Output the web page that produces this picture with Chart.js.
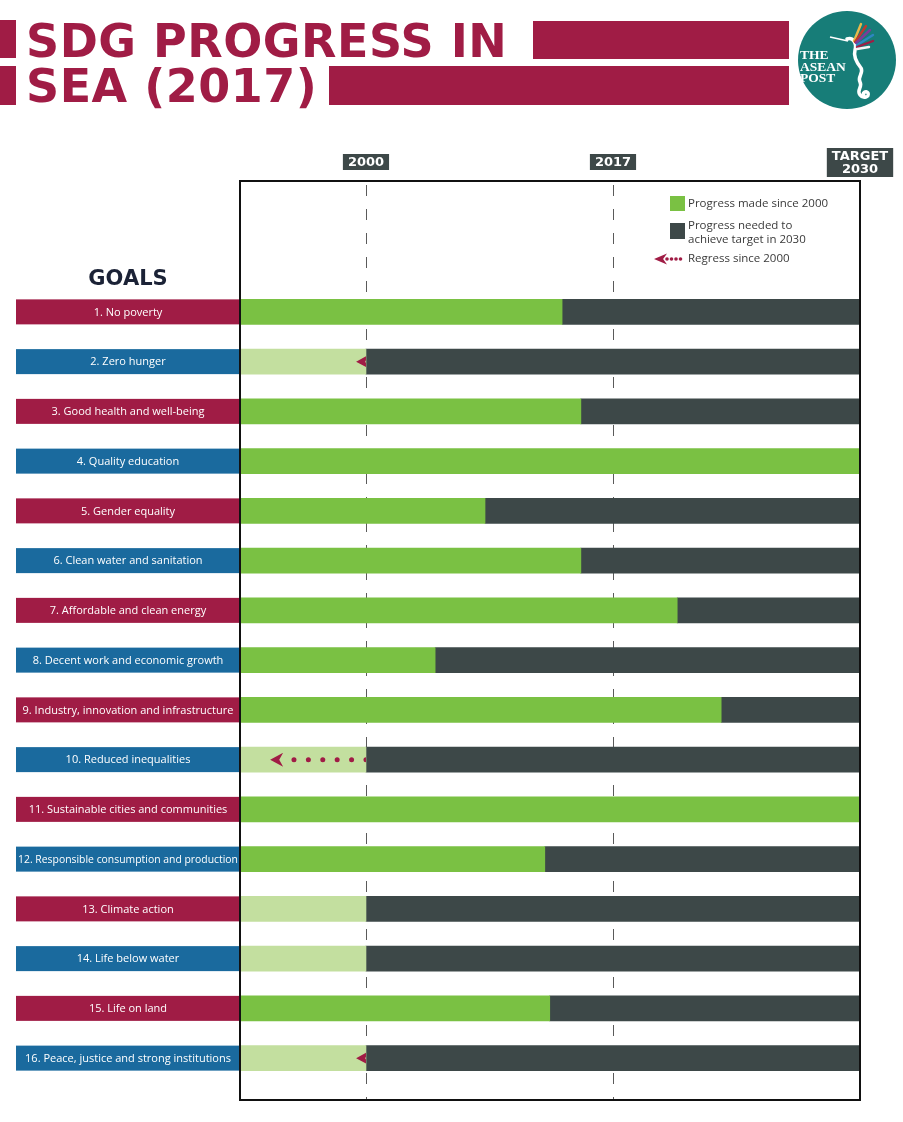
<!DOCTYPE html>
<html>
<head>
<meta charset="UTF-8">
<title>SDG Progress in SEA (2017)</title>
<script src="https://cdn.jsdelivr.net/npm/chart.js@4"></script>
<style>
  body{margin:0;width:903px;height:1122px;position:relative;background:#fff;overflow:hidden;font-family:"DejaVu Sans",sans-serif}
  #chart{position:absolute;left:0;top:0}
  .strip{position:absolute;background:#a01c45}
  .title{position:absolute;left:26px;color:#a01c45;font-weight:bold;font-size:46px;line-height:1;white-space:nowrap;letter-spacing:0.5px}
  #logo{position:absolute;left:797px;top:10px}
</style>
</head>
<body>
<canvas id="chart" width="903" height="1122"></canvas>

<div class="strip" style="left:0;top:20px;width:16px;height:38px"></div>
<div class="strip" style="left:0;top:66px;width:16px;height:39px"></div>
<div class="strip" style="left:533px;top:21px;width:256px;height:38px"></div>
<div class="strip" style="left:329px;top:66px;width:460px;height:39px"></div>
<div class="title" style="top:18px">SDG PROGRESS IN</div>
<div class="title" style="top:63px">SEA (2017)</div>

<svg id="logo" width="100" height="100" viewBox="0 0 100 100">
  <circle cx="50" cy="50" r="49" fill="#177d78"/>
  <g font-family="Liberation Serif" font-weight="bold" font-size="13.5" fill="#fff">
    <text x="3" y="49">THE</text>
    <text x="3" y="61">ASEAN</text>
    <text x="3" y="72">POST</text>
  </g>
  <path d="M33 27 L51 31" stroke="#fff" stroke-width="1.5"/>
  <path d="M50 29 C56 27 60 33 58 40 C56 47 60 53 64 58 C67 63 60 67 63 72 C66 77 59 80 63 85 C66 89 73 87 71 83 C69 80 65 83 67 86"
        fill="none" stroke="#fff" stroke-width="3.5" stroke-linecap="round"/>
  <g stroke-width="2.4" stroke-linecap="round">
    <path d="M57 31 L64 14" stroke="#e8b84a"/>
    <path d="M58 32 L69 16" stroke="#c0392b"/>
    <path d="M59 33 L73 20" stroke="#7d3c98"/>
    <path d="M60 35 L76 25" stroke="#2e86c1"/>
    <path d="M60 37 L76 31" stroke="#a01c45"/>
    <path d="M60 39 L72 37" stroke="#f4f4f4"/>
  </g>
</svg>

<script>
const goals=[
  "1. No poverty",
  "2. Zero hunger",
  "3. Good health and well-being",
  "4. Quality education",
  "5. Gender equality",
  "6. Clean water and sanitation",
  "7. Affordable and clean energy",
  "8. Decent work and economic growth",
  "9. Industry, innovation and infrastructure",
  "10. Reduced inequalities",
  "11. Sustainable cities and communities",
  "12. Responsible consumption and production",
  "13. Climate action",
  "14. Life below water",
  "15. Life on land",
  "16. Peace, justice and strong institutions"
];
// share of the way from the 2000 level (0) to the 2030 target (1); negative = regress
const progress=[0.397,-0.02,0.435,1,0.241,0.435,0.630,0.140,0.719,-0.194,1,0.362,0,0,0.372,-0.02];
const tickValues=[0,0.5,1];
const tickLabels=[["2000"],["2017"],["TARGET","2030"]];
const legendLabels=[["Progress made since 2000"],["Progress needed to","achieve target in 2030"],["Regress since 2000"]];

const xMin=-0.255;
const green="#7ac143", lightGreen="#c3df9f", dark="#3d4848";
const crimson="#a01c45", blue="#1a6a9e";
const frameTop=181, frameBottom=1100;

function dart(ctx,tx,yc,len,half){
  ctx.beginPath();
  ctx.moveTo(tx,yc);
  ctx.lineTo(tx+len,yc-half);
  ctx.lineTo(tx+len*0.7,yc);
  ctx.lineTo(tx+len,yc+half);
  ctx.closePath();
  ctx.fill();
}

const sdgDecor={
  id:"sdgDecor",
  beforeDatasetsDraw(chart){
    const {ctx,scales:{x}}=chart;
    ctx.save();
    ctx.strokeStyle="#5a5a5a";
    ctx.lineWidth=1;
    ctx.setLineDash([11,13]);
    tickValues.slice(0,2).forEach(v=>{
      const px=Math.round(x.getPixelForValue(v))+0.5;
      ctx.beginPath();ctx.moveTo(px,frameTop+4);ctx.lineTo(px,frameBottom);ctx.stroke();
    });
    ctx.restore();
  },
  afterDatasetsDraw(chart){
    const {ctx,scales:{x,y}}=chart;
    const left=chart.chartArea.left, right=chart.chartArea.right;
    ctx.save();

    // goal label boxes
    ctx.textAlign="center";ctx.textBaseline="middle";
    ctx.font="11px 'Open Sans'";
    goals.forEach((g,i)=>{
      const yc=y.getPixelForValue(i);
      ctx.fillStyle=i%2?blue:crimson;
      ctx.fillRect(16,yc-12.5,left-16,25);
      ctx.fillStyle="#fff";
      ctx.fillText(g,128,yc+0.5,220);
    });

    // regress arrows
    const x0=x.getPixelForValue(0);
    progress.forEach((p,i)=>{
      if(p>=0)return;
      const yc=y.getPixelForValue(i), tip=x.getPixelForValue(p);
      ctx.save();
      ctx.beginPath();ctx.rect(left,yc-13,x0-left,26);ctx.clip();
      ctx.fillStyle=crimson;
      for(let dx=x0;dx>tip+19;dx-=14.4){
        ctx.beginPath();ctx.arc(dx,yc,2.5,0,Math.PI*2);ctx.fill();
      }
      dart(ctx,tip,yc,13,7);
      ctx.restore();
    });

    // frame
    ctx.strokeStyle="#111";ctx.lineWidth=2;
    ctx.strokeRect(left,frameTop,right-left,frameBottom-frameTop);

    // year markers
    ctx.font="bold 13px 'DejaVu Sans'";
    tickValues.forEach((v,i)=>{
      const px=x.getPixelForValue(v), lines=tickLabels[i];
      const w=Math.max(...lines.map(l=>ctx.measureText(l).width))+10;
      const h=lines.length*13+3;
      const bottom=lines.length>1?177:170;
      ctx.fillStyle=dark;
      ctx.fillRect(px-w/2,bottom-h,w,h);
      ctx.fillStyle="#fff";
      lines.forEach((l,j)=>ctx.fillText(l,px,bottom-h+8.5+j*13));
    });

    // legend
    ctx.textAlign="left";
    ctx.font="11.5px 'Open Sans'";
    ctx.fillStyle=green;ctx.fillRect(670,196,15,15);
    ctx.fillStyle=dark;ctx.fillRect(670,223,15,16);
    ctx.fillStyle=crimson;
    dart(ctx,654,259,13,5.5);
    [667,671.5,676,680.5].forEach(dx=>{ctx.beginPath();ctx.arc(dx,259,1.8,0,Math.PI*2);ctx.fill();});
    ctx.fillStyle="#3a3a3a";
    ctx.fillText(legendLabels[0][0],688,204);
    ctx.fillText(legendLabels[1][0],688,226);
    ctx.fillText(legendLabels[1][1],688,240);
    ctx.fillText(legendLabels[2][0],688,259);

    // heading
    ctx.textAlign="center";
    ctx.fillStyle="#1b2236";
    ctx.font="bold 21px 'DejaVu Sans'";
    ctx.fillText("GOALS",128,280);
    ctx.restore();
  }
};

new Chart(document.getElementById("chart"),{
  type:"bar",
  data:{
    labels:goals,
    datasets:[
      {label:"Progress made since 2000",data:progress.map(p=>p>0?[xMin,p]:null),backgroundColor:green},
      {label:"No progress since 2000",data:progress.map(p=>p<=0?[xMin,0]:null),backgroundColor:lightGreen},
      {label:"Progress needed to achieve target in 2030",data:progress.map(p=>p<1?[Math.max(p,0),1]:null),backgroundColor:dark}
    ]
  },
  options:{
    indexAxis:"y",
    responsive:false,
    animation:false,
    devicePixelRatio:1,
    layout:{padding:{left:240,right:43,top:287,bottom:39}},
    datasets:{bar:{barThickness:25,borderWidth:0}},
    scales:{
      x:{display:false,min:xMin,max:1,stacked:false},
      y:{display:false,stacked:true}
    },
    plugins:{legend:{display:false},tooltip:{enabled:false}}
  },
  plugins:[sdgDecor]
});
</script>
</body>
</html>
